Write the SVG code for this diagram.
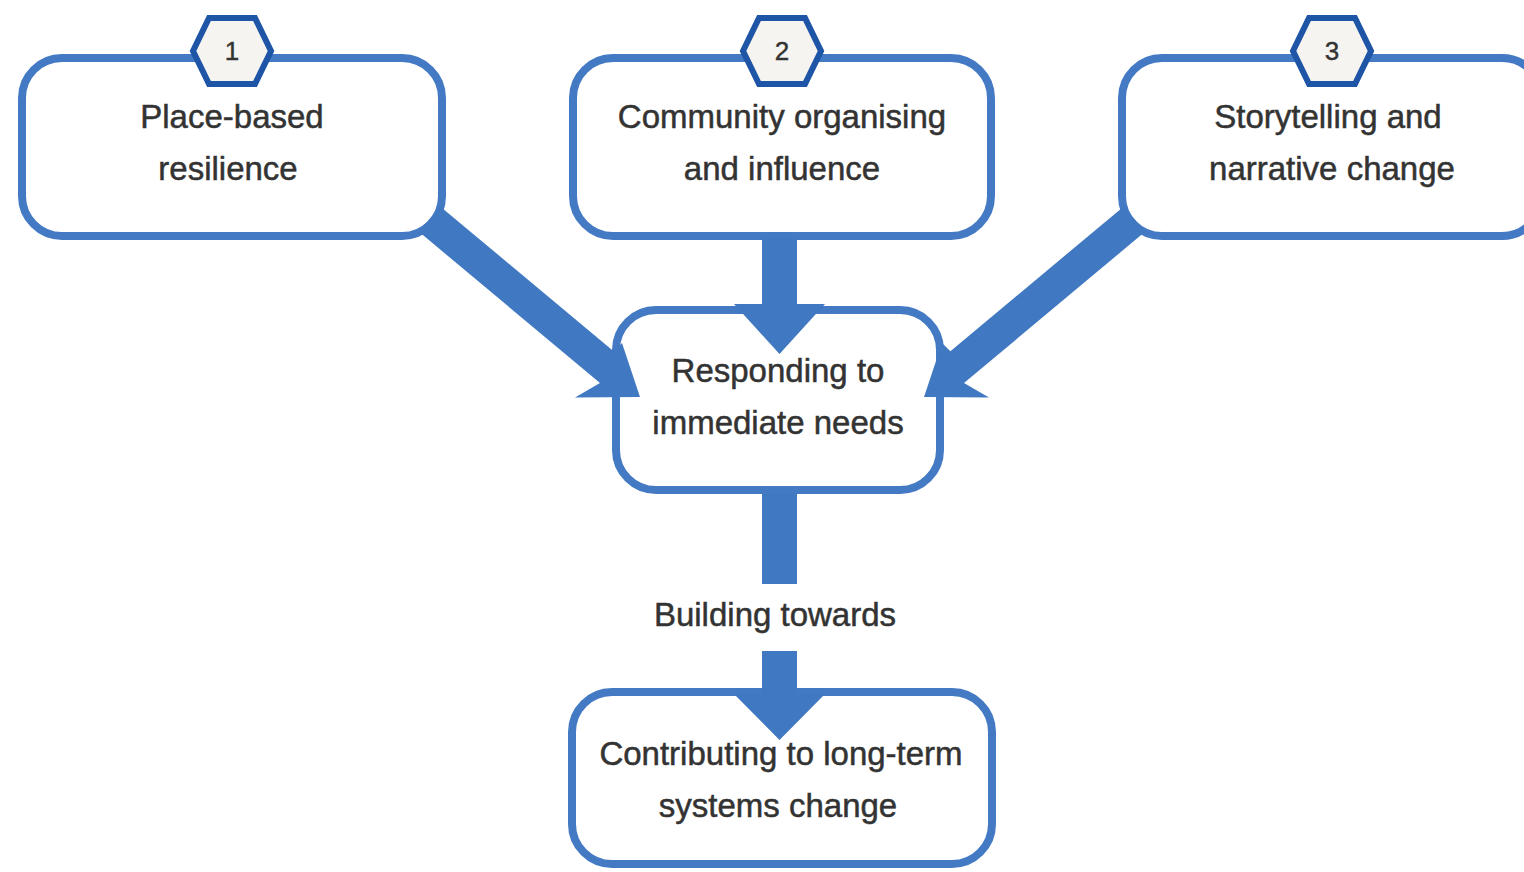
<svg xmlns="http://www.w3.org/2000/svg" width="1524" height="872" viewBox="0 0 1524 872">
<defs>
<style>
.box{fill:#ffffff;stroke:#4479c4;stroke-width:8}
.hex{fill:#f6f4f1;stroke:#1f55a6;stroke-width:6;stroke-linejoin:miter}
.lbl{font-family:"Liberation Sans",Arial,sans-serif;font-size:33px;fill:#333333;stroke:#333333;stroke-width:0.5;text-anchor:middle}
.num{font-family:"Liberation Sans",Arial,sans-serif;font-size:26px;fill:#333333;stroke:#333333;stroke-width:0.4;text-anchor:middle}
.arr{fill:#4178c2}
</style>
<polygon id="hexshape" class="hex" points="-39,0 -23,-33 23,-33 39,0 23,33 -23,33"/>
</defs>
<rect width="1524" height="872" fill="#ffffff"/>
<g id="node1">
<rect class="box" x="22" y="58" width="420" height="178" rx="40"/>
<use href="#hexshape" x="232" y="51"/>
<text class="num" x="232" y="60">1</text>
<text class="lbl" x="232" y="128">Place-based</text>
<text class="lbl" x="228" y="180">resilience</text>
</g>
<g id="node2">
<rect class="box" x="573" y="58" width="418" height="178" rx="40"/>
<use href="#hexshape" x="782" y="51"/>
<text class="num" x="782" y="60">2</text>
<text class="lbl" x="782" y="128">Community organising</text>
<text class="lbl" x="782" y="180">and influence</text>
</g>
<g id="node3">
<rect class="box" x="1122" y="58" width="420" height="178" rx="40"/>
<use href="#hexshape" x="1332" y="51"/>
<text class="num" x="1332" y="60">3</text>
<text class="lbl" x="1328" y="128">Storytelling and</text>
<text class="lbl" x="1332" y="180">narrative change</text>
</g>
<g id="node4">
<rect class="box" x="616" y="310" width="324" height="180" rx="40"/>
<text class="lbl" x="778" y="382">Responding to</text>
<text class="lbl" x="778" y="434">immediate needs</text>
</g>
<g id="node5">
<rect class="box" x="572" y="692" width="420" height="172" rx="40"/>
<text class="lbl" x="781" y="765">Contributing to long-term</text>
<text class="lbl" x="778" y="817">systems change</text>
</g>
<g id="connectors">
<polygon class="arr" points="419,231.8 600,383 575,397.5 640,397 622,343 613.6,351.2 440.2,206.4"/>
<polygon class="arr" points="1145,231.8 964,383 989,397.5 924,397 942,343 950.4,351.2 1123.8,206.4"/>
<polygon class="arr" points="762,238 797,238 797,304 825,304 779.5,354 734,304 762,304"/>
<rect class="arr" x="762" y="494" width="35" height="90"/>
<polygon class="arr" points="762,651 797,651 797,694 825,694 779.5,740 734,694 762,694"/>
</g>
<text class="lbl" x="775" y="626">Building towards</text>
</svg>
